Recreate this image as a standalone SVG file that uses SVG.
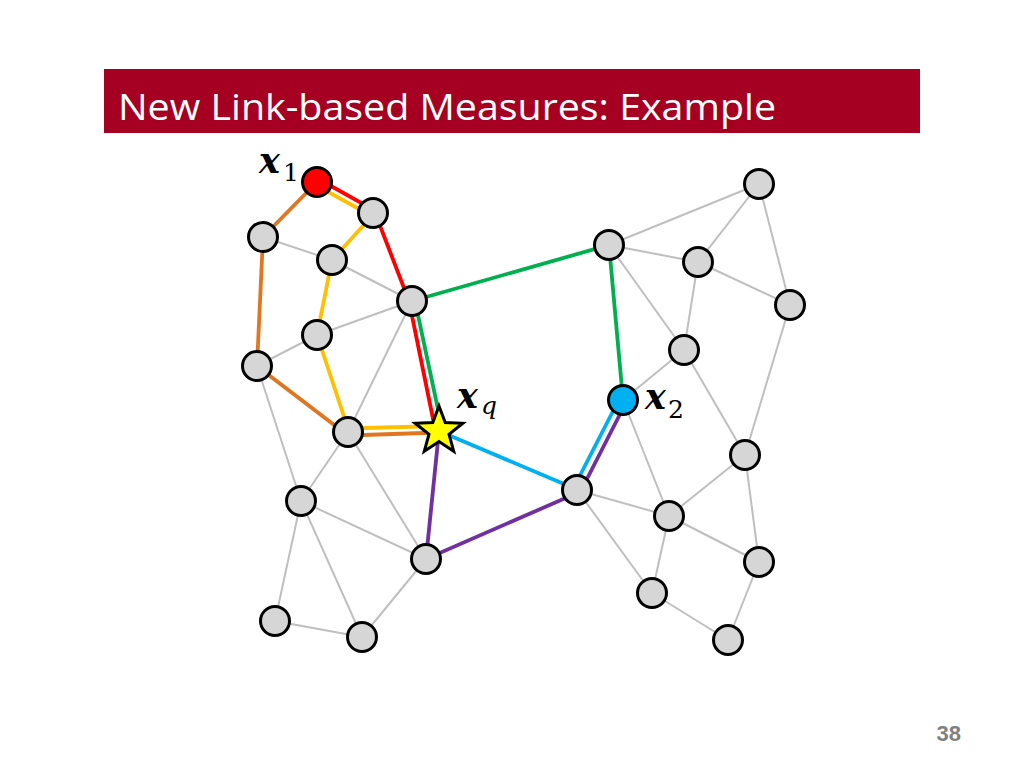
<svg xmlns="http://www.w3.org/2000/svg" width="1024" height="768" viewBox="0 0 1024 768">
<style>
.g{stroke:#BFBFBF;stroke-width:2;fill:none}
.c{stroke-width:3.8;fill:none;stroke-linecap:butt}
.red{stroke:#FF0000}.yel{stroke:#FFC000}.org{stroke:#E0761F}.grn{stroke:#00B050}.cyn{stroke:#00B0F0}.pur{stroke:#7030A0}
.n{fill:#D6D6D6;stroke:#000;stroke-width:3}
.mx{font-family:"DejaVu Serif",serif;font-weight:bold;font-style:italic;font-size:35px;fill:#000}
.ms{font-family:"DejaVu Serif",serif;font-size:25px;fill:#000}
.msi{font-family:"DejaVu Serif",serif;font-style:italic;font-size:25px;fill:#000}
</style>
<rect width="1024" height="768" fill="#FFFFFF"/>
<g id="title">
<rect x="104" y="69" width="816" height="64" fill="#A50021"/>
<text x="118" y="120" font-family="Open Sans, Liberation Sans, sans-serif" font-size="37" fill="#FFFFFF" textLength="658" lengthAdjust="spacingAndGlyphs">New Link-based Measures: Example</text>
</g>
<g id="connectors">
<line class="g" x1="263" y1="237" x2="332" y2="260"/>
<line class="g" x1="332" y1="260" x2="412" y2="301"/>
<line class="g" x1="317" y1="335" x2="412" y2="301"/>
<line class="g" x1="257" y1="366" x2="317" y2="335"/>
<line class="g" x1="412" y1="301" x2="348" y2="432"/>
<line class="g" x1="257" y1="366" x2="301" y2="501"/>
<line class="g" x1="348" y1="432" x2="301" y2="501"/>
<line class="g" x1="348" y1="432" x2="426" y2="559"/>
<line class="g" x1="301" y1="501" x2="426" y2="559"/>
<line class="g" x1="301" y1="501" x2="275" y2="621"/>
<line class="g" x1="301" y1="501" x2="362" y2="637"/>
<line class="g" x1="275" y1="621" x2="362" y2="637"/>
<line class="g" x1="362" y1="637" x2="426" y2="559"/>
<line class="g" x1="609" y1="245" x2="759" y2="184"/>
<line class="g" x1="609" y1="245" x2="698" y2="262"/>
<line class="g" x1="609" y1="245" x2="684" y2="350"/>
<line class="g" x1="698" y1="262" x2="759" y2="184"/>
<line class="g" x1="698" y1="262" x2="790" y2="305"/>
<line class="g" x1="759" y1="184" x2="790" y2="305"/>
<line class="g" x1="698" y1="262" x2="684" y2="350"/>
<line class="g" x1="684" y1="350" x2="623" y2="400"/>
<line class="g" x1="684" y1="350" x2="745" y2="455"/>
<line class="g" x1="790" y1="305" x2="745" y2="455"/>
<line class="g" x1="623" y1="400" x2="669" y2="516"/>
<line class="g" x1="577" y1="490" x2="669" y2="516"/>
<line class="g" x1="577" y1="490" x2="652" y2="593"/>
<line class="g" x1="669" y1="516" x2="745" y2="455"/>
<line class="g" x1="669" y1="516" x2="759" y2="562"/>
<line class="g" x1="669" y1="516" x2="652" y2="593"/>
<line class="g" x1="745" y1="455" x2="759" y2="562"/>
<line class="g" x1="759" y1="562" x2="728" y2="640"/>
<line class="g" x1="652" y1="593" x2="728" y2="640"/>
<polyline class="c red" points="318.5,179 374,210 409,301 435.5,431"/>
<polyline class="c yel" points="315.5,185 372,216 332,260 317,335 348,428.5 439,426"/>
<polyline class="c org" points="317,182 263,237 257,366 348,435.5 439,432.5"/>
<polyline class="c grn" points="442.5,430.5 415,301 412,301 609,245 623,400"/>
<polyline class="c cyn" points="439,431 573.5,488 619.5,398.5"/>
<polyline class="c pur" points="439,431 426,559 580.5,491.5 626.5,401.5"/>
</g>
<g id="node-x1"><circle class="n" cx="317" cy="182" r="14.5" style="fill:#FF0000"/></g>
<g id="node-a"><circle class="n" cx="373" cy="213" r="14.5"/></g>
<g id="node-b"><circle class="n" cx="263" cy="237" r="14.5"/></g>
<g id="node-c"><circle class="n" cx="332" cy="260" r="14.5"/></g>
<g id="node-d"><circle class="n" cx="412" cy="301" r="14.5"/></g>
<g id="node-e"><circle class="n" cx="317" cy="335" r="14.5"/></g>
<g id="node-f"><circle class="n" cx="257" cy="366" r="14.5"/></g>
<g id="node-g"><circle class="n" cx="348" cy="432" r="14.5"/></g>
<g id="node-p"><circle class="n" cx="301" cy="501" r="14.5"/></g>
<g id="node-i"><circle class="n" cx="426" cy="559" r="14.5"/></g>
<g id="node-q"><circle class="n" cx="275" cy="621" r="14.5"/></g>
<g id="node-r"><circle class="n" cx="362" cy="637" r="14.5"/></g>
<g id="node-j"><circle class="n" cx="759" cy="184" r="14.5"/></g>
<g id="node-k"><circle class="n" cx="609" cy="245" r="14.5"/></g>
<g id="node-l"><circle class="n" cx="698" cy="262" r="14.5"/></g>
<g id="node-m"><circle class="n" cx="790" cy="305" r="14.5"/></g>
<g id="node-n"><circle class="n" cx="684" cy="350" r="14.5"/></g>
<g id="node-x2"><circle class="n" cx="623" cy="400" r="14.5" style="fill:#00B0F0"/></g>
<g id="node-o"><circle class="n" cx="745" cy="455" r="14.5"/></g>
<g id="node-h"><circle class="n" cx="577" cy="490" r="14.5"/></g>
<g id="node-s"><circle class="n" cx="669" cy="516" r="14.5"/></g>
<g id="node-t"><circle class="n" cx="759" cy="562" r="14.5"/></g>
<g id="node-u"><circle class="n" cx="652" cy="593" r="14.5"/></g>
<g id="node-v"><circle class="n" cx="728" cy="640" r="14.5"/></g>
<g id="node-xq"><polygon points="439,406 445.2,422.5 462.8,423.3 449,434.2 453.7,451.2 439,441.5 424.3,451.2 429,434.2 415.2,423.3 432.8,422.5" fill="#FFFF00" stroke="#000" stroke-width="3" stroke-linejoin="miter"/></g>
<g id="labels">
<text class="mx" x="259" y="173">x</text><text class="ms" x="283" y="181">1</text>
<text class="mx" x="457" y="408">x</text><text class="msi" x="481" y="414">q</text>
<text class="mx" x="645" y="409">x</text><text class="ms" x="668" y="418">2</text>
</g>
<text x="961" y="741" text-anchor="end" font-family="Liberation Sans, Arial, sans-serif" font-weight="bold" font-size="22" fill="#808080">38</text>
</svg>
